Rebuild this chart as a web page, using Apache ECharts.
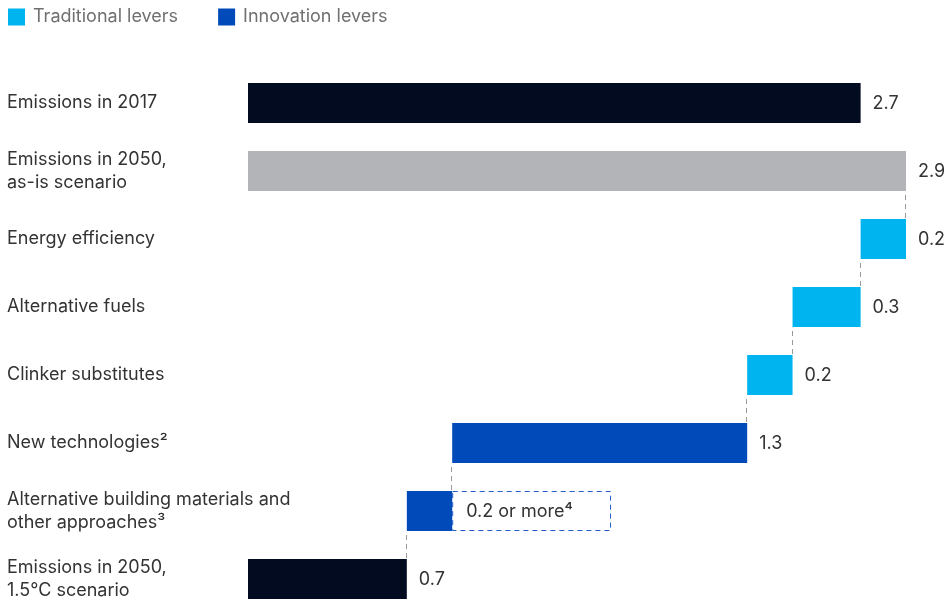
<!DOCTYPE html>
<html>
<head>
<meta charset="utf-8">
<script src="https://cdn.jsdelivr.net/npm/echarts@6/dist/echarts.min.js"></script>
<style>html,body{margin:0;padding:0;background:#fff;}#c{width:950px;height:613px;}</style>
</head>
<body>
<div id="c"></div>
<script>
const categories = [
  'Emissions in 2017',
  'Emissions in 2050,\nas-is scenario',
  'Energy efficiency',
  'Alternative fuels',
  'Clinker substitutes',
  'New technologies²',
  'Alternative building materials and\nother approaches³',
  'Emissions in 2050,\n1.5°C scenario'
];
const changes = [2.7, 2.9, -0.2, -0.3, -0.2, -1.3, -0.2, 0.7];
const kinds = ['total', 'projection', 'traditional', 'traditional', 'traditional', 'innovation', 'innovation', 'total'];
const valueLabels = ['2.7', '2.9', '0.2', '0.3', '0.2', '1.3', '', '0.7'];
const openEndedRow = 6;
const openEndedUpper = 1.6;
const openEndedLabel = '0.2 or more⁴';
const legendNames = ['Traditional levers', 'Innovation levers'];

const COLORS = { total: '#020b20', projection: '#b3b4b8', traditional: '#00b5ef', innovation: '#004bb9' };
const FONT = 'Inter, "Liberation Sans", Arial, sans-serif';
const FS = 18;
const BAR_H = 40;

// build waterfall ranges
const starts = [], ends = [], connectAt = [];
let level = 0;
changes.forEach((c, i) => {
  const isTotal = kinds[i] === 'total' || kinds[i] === 'projection';
  const prevLevel = level;
  if (isTotal) { starts.push(0); ends.push(c); level = c; }
  else { ends.push(level); starts.push(level + c); level = level + c; }
  const prevTotal = i > 0 && (kinds[i - 1] === 'total' || kinds[i - 1] === 'projection');
  connectAt.push(i > 0 && !(isTotal && prevTotal) ? prevLevel : null);
});

function rowsOf(filter) {
  return categories.map((_, i) => i).filter(filter).map(i => [i, starts[i], ends[i], i]);
}

function renderBar(params, api) {
  const row = api.value(0), s = api.value(1), e = api.value(2), idx = api.value(3);
  const p0 = api.coord([s, row]);
  const p1 = api.coord([e, row]);
  const children = [{
    type: 'rect',
    shape: { x: p0[0], y: p0[1] - BAR_H / 2, width: p1[0] - p0[0], height: BAR_H },
    style: { fill: COLORS[kinds[idx]] }
  }];
  if (idx === openEndedRow) {
    const p2 = api.coord([openEndedUpper, row]);
    children.push({
      type: 'rect',
      shape: { x: p1[0] + 0.5, y: p1[1] - BAR_H / 2 + 0.5, width: p2[0] - p1[0] - 1, height: BAR_H - 1 },
      style: { fill: 'none', stroke: '#1f5cc4', lineWidth: 1, lineDash: [5, 4] }
    });
    children.push({
      type: 'text', x: p1[0] + 14, y: p1[1] + 1,
      style: { text: openEndedLabel, fontSize: FS, fontFamily: FONT, fill: '#333', verticalAlign: 'middle', align: 'left' }
    });
  }
  if (valueLabels[idx]) {
    children.push({
      type: 'text', x: p1[0] + 12, y: p1[1] + 1,
      style: { text: valueLabels[idx], fontSize: FS, fontFamily: FONT, fill: '#333', verticalAlign: 'middle', align: 'left' }
    });
  }
  return { type: 'group', children };
}

function renderConnector(params, api) {
  const row = api.value(0), v = api.value(1);
  const top = api.coord([v, row - 1]);
  const bot = api.coord([v, row]);
  const x = Math.round(top[0]) - 0.5;
  return {
    type: 'line',
    shape: { x1: x, y1: top[1] + BAR_H / 2 + 4, x2: x, y2: bot[1] - BAR_H / 2 },
    style: { stroke: '#9a9a9a', lineWidth: 1, lineDash: [5, 4] }
  };
}

const connectorData = connectAt.map((v, i) => v === null ? null : [i, v]).filter(d => d);

const chart = echarts.init(document.getElementById('c'), null, { renderer: 'canvas' });
chart.setOption({
  animation: false,
  legend: {
    data: legendNames,
    left: 3, top: 3,
    itemWidth: 17, itemHeight: 17, itemGap: 40,
    icon: 'rect',
    textStyle: { fontSize: FS, fontFamily: FONT, color: '#707070', padding: [0, 0, 0, 3] }
  },
  grid: { left: 248, right: 44, top: 69, height: 551, containLabel: false },
  xAxis: { type: 'value', min: 0, max: 2.9, show: false },
  yAxis: {
    type: 'category', data: categories, inverse: true,
    axisLine: { show: false }, axisTick: { show: false }, splitLine: { show: false },
    axisLabel: { align: 'left', margin: 241, fontSize: FS, fontFamily: FONT, color: '#333', lineHeight: 23 }
  },
  series: [
    { name: 'Totals', type: 'custom', renderItem: renderBar, encode: { x: [1, 2], y: 0 },
      data: rowsOf(i => kinds[i] === 'total' || kinds[i] === 'projection'), itemStyle: { color: COLORS.total } },
    { name: legendNames[0], type: 'custom', renderItem: renderBar, encode: { x: [1, 2], y: 0 },
      data: rowsOf(i => kinds[i] === 'traditional'), itemStyle: { color: COLORS.traditional } },
    { name: legendNames[1], type: 'custom', renderItem: renderBar, encode: { x: [1, 2], y: 0 },
      data: rowsOf(i => kinds[i] === 'innovation'), itemStyle: { color: COLORS.innovation } },
    { name: 'Connectors', type: 'custom', renderItem: renderConnector, encode: { x: 1, y: 0 },
      data: connectorData, silent: true }
  ]
});
</script>
</body>
</html>
